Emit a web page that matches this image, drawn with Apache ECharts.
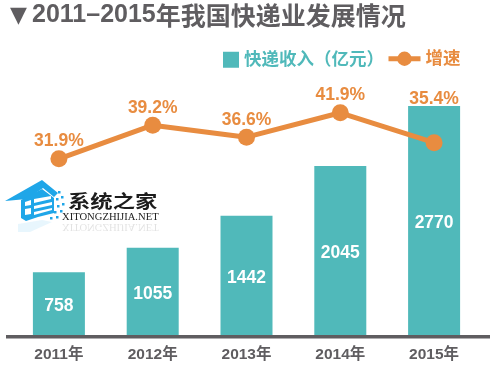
<!DOCTYPE html>
<html><head><meta charset="utf-8">
<style>html,body{margin:0;padding:0;background:#fff}#c{width:495px;height:370px}</style>
<script src="https://cdn.jsdelivr.net/npm/echarts@6/dist/echarts.min.js"></script>
</head><body><div id="c"></div>
<script>
const years = ['2011年','2012年','2013年','2014年','2015年'];
const revenue = [758,1055,1442,2045,2770];
const growth = [31.9,39.2,36.6,41.9,35.4];
const FONT = '"Liberation Sans","Noto Sans CJK SC",sans-serif';
const TEAL='#50b9ba', ORANGE='#e88c40', GREY='#5f5d60', BLUE='#1fa6e8';
const chart = echarts.init(document.getElementById('c'),null,{renderer:'canvas'});
const dots=[[58,191],[61,196],[56,198],[62,203],[57,205],[60,210],[54,211],[56,216],[50,217]];
chart.setOption({
  animation:false,
  backgroundColor:'#fff',
  textStyle:{fontFamily:FONT},
  grid:{left:12,right:14,top:35,bottom:35},
  legend:[
    {show:true,data:[{name:'快递收入（亿元）',icon:'rect'}],left:223,top:51,itemWidth:16,itemHeight:16,itemGap:6,padding:0,
     textStyle:{color:TEAL,fontSize:17.5,fontWeight:'bold',fontFamily:FONT}},
    {show:true,data:['增速'],left:386,top:50,itemWidth:32,itemHeight:18,itemGap:2,padding:0,
     lineStyle:{width:5,color:ORANGE},
     textStyle:{color:ORANGE,fontSize:17.5,fontWeight:'bold',fontFamily:FONT}}
  ],
  xAxis:{type:'category',data:years,
    axisLine:{show:false},axisTick:{show:false},
    axisLabel:{color:GREY,fontSize:15.5,fontWeight:'bold',fontFamily:FONT,margin:12}},
  yAxis:[
    {type:'value',min:0,max:3628,show:false,splitLine:{show:false}},
    {type:'value',min:-6.4,max:58.8,show:false,splitLine:{show:false}}
  ],
  series:[
    {name:'快递收入（亿元）',type:'bar',data:revenue,barWidth:52,
     itemStyle:{color:TEAL},
     label:{show:true,position:'inside',offset:[0,3],color:'#fff',fontSize:17.5,fontWeight:'bold',fontFamily:FONT}},
    {name:'增速',type:'line',yAxisIndex:1,z:5,
     data:growth.map((v,i)=> i===4 ? {value:v,label:{offset:[0,-26]}} : v),
     symbol:'circle',symbolSize:17,
     lineStyle:{color:ORANGE,width:5},itemStyle:{color:ORANGE},
     label:{show:true,position:'top',distance:0,color:ORANGE,fontSize:17.5,fontWeight:'bold',fontFamily:FONT,
       formatter:p=>p.value.toFixed(1)+'%'}}
  ],
  graphic:[
    {type:'rect',shape:{x:6,y:335,width:484,height:3.5},style:{fill:GREY},z:10},
    {type:'text',left:10,top:5,style:{text:'▼',fill:GREY,fontSize:22,fontFamily:'"DejaVu Sans"'}},
    {type:'text',left:32,top:3,style:{
      text:'{a|2011–2015}{b|年我国快递业发展情况}',
      rich:{a:{fill:GREY,fontSize:25,fontWeight:'bold',fontFamily:'"Liberation Sans"'},
            b:{fill:GREY,fontSize:25,fontWeight:'bold',fontFamily:'"Noto Sans CJK SC"'}}}},
    // watermark logo
    {type:'polygon',shape:{points:[[5,201],[42,180],[58,193],[54,197],[43,188],[27,199]]},style:{fill:BLUE}},
    {type:'polygon',shape:{points:[[21,200],[42,189],[54,198],[54,213],[38,217],[26,221],[21,218]]},style:{fill:BLUE}},
    {type:'polygon',shape:{points:[[25,202],[31,200],[31,205],[25,206]]},style:{fill:'#fff'}},
    {type:'polygon',shape:{points:[[25,209],[31,208],[31,214],[25,215]]},style:{fill:'#fff'}},
    {type:'polygon',shape:{points:[[34,199],[51,196],[51,199],[34,203]]},style:{fill:'#fff'}},
    {type:'polygon',shape:{points:[[34,206],[52,202],[52,205],[34,209]]},style:{fill:'#fff'}},
    {type:'polygon',shape:{points:[[34,212],[52,208],[52,210],[34,215]]},style:{fill:'#fff'}},
    {type:'polygon',shape:{points:[[18,224],[42,220],[52,222],[30,232],[18,232]]},style:{fill:BLUE,opacity:0.1}},
    ...dots.map(d=>({type:'rect',shape:{x:d[0],y:d[1],width:2.5,height:2.5},style:{fill:BLUE}})),
    {type:'text',x:68,y:192,scaleX:1.24,style:{text:'系统之家',fill:'#1c1c1c',fontSize:18,fontWeight:'bold',fontFamily:'"Noto Sans CJK SC"'}},
    {type:'text',x:62,y:212,style:{text:'XITONGZHIJIA.NET',fill:'#222',fontSize:10.6,fontFamily:'"Liberation Serif"'}},
    {type:'text',x:62,y:232,scaleY:-1,style:{text:'XITONGZHIJIA.NET',fill:'#222',opacity:0.13,fontSize:10.6,fontFamily:'"Liberation Serif"'}}
  ]
});
</script></body></html>
